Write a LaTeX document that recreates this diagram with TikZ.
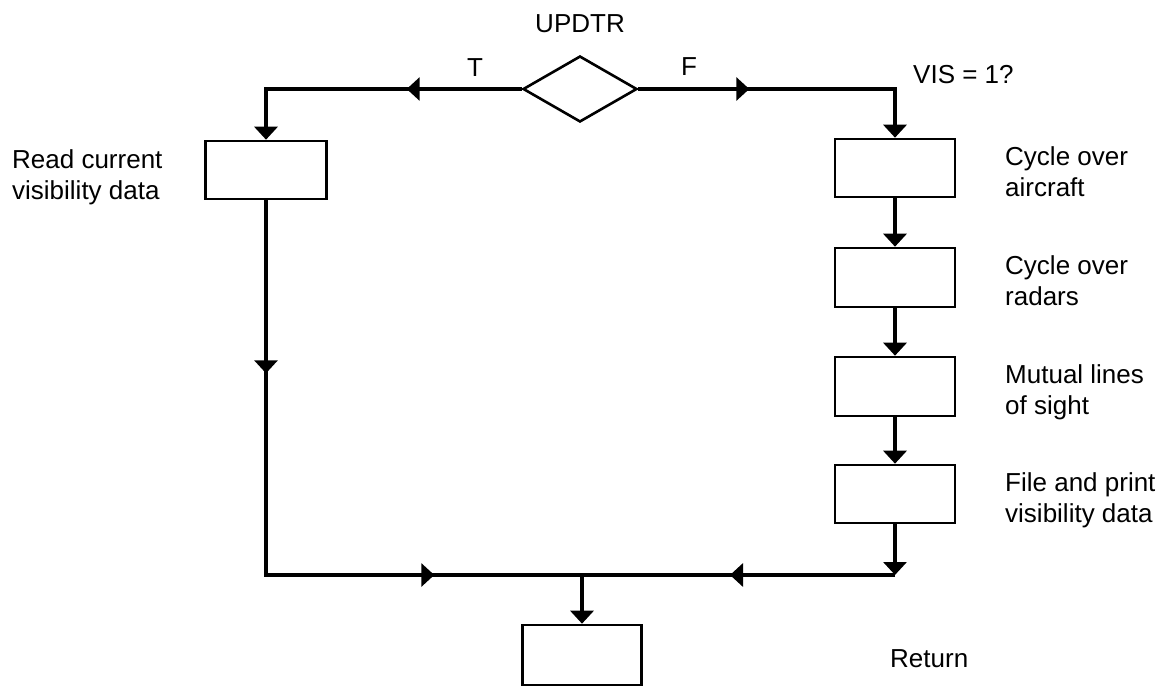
\documentclass[tikz,border=0pt]{standalone}
\usepackage{fontspec}
\setmainfont{Liberation Sans}
\usetikzlibrary{arrows.meta,shapes.geometric,decorations.markings}
\begin{document}
\begin{tikzpicture}[x=1pt,y=-1pt,
  fl/.tip={Triangle[length=13pt,width=23pt]},
  conn/.style={line width=4pt},
  box/.style={draw,line width=2.6pt,minimum width=120pt,minimum height=58pt,inner sep=0pt},
  lbl/.style={font=\fontsize{26pt}{31pt}\selectfont,inner sep=0pt,align=left},
  midarrow/.style={postaction={decorate,decoration={markings,mark=at position #1 with {\arrow{fl}}}}}
]
\useasboundingbox[fill=white] (0,0) rectangle (1170,688);

% decision
\node[draw,diamond,line width=2.6pt,minimum width=114pt,minimum height=66pt,inner sep=0pt] (d) at (580,89) {};
\node[lbl,anchor=base] (updtr) at (580,32) {UPDTR};
\node[lbl,anchor=base] (tlab) at (475,76) {T};
\node[lbl,anchor=base] (flab) at (689,75) {F};
\node[lbl,anchor=base west] (vis) at (913,83) {VIS = 1?};

% boxes
\node[box,minimum width=121pt] (lb) at (266,170) {};
\node[box] (b1) at (895,168) {};
\node[box,minimum height=59pt] (b2) at (895,277.5) {};
\node[box,minimum height=59pt] (b3) at (895,386.5) {};
\node[box] (b4) at (895,494) {};
\node[box,minimum width=119pt,minimum height=60pt] (rb) at (582,655) {};

% labels
\node[lbl,anchor=north west] (llab) at (12,149) {Read current\\visibility data};
\node[lbl,anchor=north west] (l1) at (1005,146) {Cycle over\\aircraft};
\node[lbl,anchor=north west] (l2) at (1005,255) {Cycle over\\radars};
\node[lbl,anchor=north west] (l3) at (1005,364) {Mutual lines\\of sight};
\node[lbl,anchor=north west] (l4) at (1005,472) {File and print\\visibility data};
\node[lbl,anchor=base west] (ret) at (890,667) {Return};

% corner coordinates
\coordinate (tlc) at (266,89);
\coordinate (trc) at (895,89);
\coordinate (blc) at (266,575);
\coordinate (brc) at (895,575);
\coordinate (jn) at (582,575);

% connectors
\draw[conn,-{fl},midarrow=115pt] (d.west) -- (tlc) -- (lb.north);
\draw[conn,-{fl},midarrow=111pt] (d.east) -- (trc) -- (b1.north);
\draw[conn,midarrow=173pt,midarrow=543pt] (lb.south) -- (blc) -- (jn);
\draw[conn,-{fl}] (b4.south) -- (brc);
\draw[conn,midarrow=165pt] (brc) -- (jn);
\draw[conn,-{fl}] (jn) -- (rb.north);
\draw[conn,-{fl}] (b1.south) -- (b2.north);
\draw[conn,-{fl}] (b2.south) -- (b3.north);
\draw[conn,-{fl}] (b3.south) -- (b4.north);
\end{tikzpicture}
\end{document}
